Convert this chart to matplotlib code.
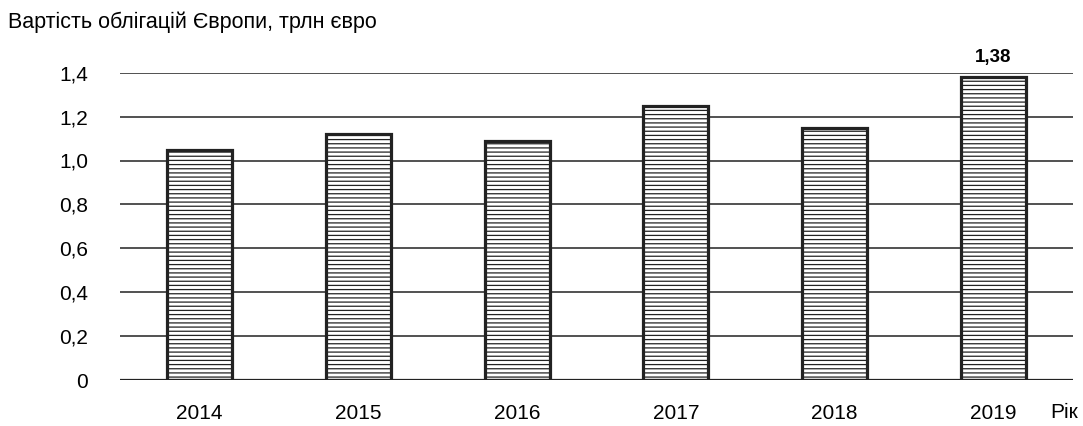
import numpy as np
import matplotlib.pyplot as plt

plt.rcParams['font.family'] = ['Liberation Sans', 'DejaVu Sans']
plt.rcParams['hatch.linewidth'] = 0.9
plt.rcParams['hatch.color'] = '#555555'

years = ['2014', '2015', '2016', '2017', '2018', '2019']
values = [1.05, 1.12, 1.09, 1.25, 1.15, 1.38]
yticks = [0, 0.2, 0.4, 0.6, 0.8, 1.0, 1.2, 1.4]
ytick_labels = ['0', '0,2', '0,4', '0,6', '0,8', '1,0', '1,2', '1,4']

fig = plt.figure(figsize=(10.83, 4.26), dpi=100)
ax = fig.add_axes([120 / 1083, 1 - 380 / 426, 953 / 1083, 307.3 / 426])

x = np.arange(len(years))
ax.bar(x, values, width=0.41, color='white', edgecolor='#222222',
       linewidth=2.3, hatch='----', zorder=3)

# horizontal gridlines drawn behind the bars
for t in yticks[1:]:
    ax.axhline(t, color='#222222', linewidth=1.1, zorder=1)
ax.axhline(0, color='#222222', linewidth=1.6, zorder=4)

ax.set_xlim(-0.5, len(years) - 0.5)
ax.set_ylim(0, 1.4)
ax.set_yticks(yticks)
ax.set_yticklabels(ytick_labels, fontsize=15)
ax.set_xticks(x)
ax.set_xticklabels(years, fontsize=15)
ax.tick_params(axis='both', length=0)
ax.tick_params(axis='y', pad=23)
ax.tick_params(axis='x', pad=17)
for s in ax.spines.values():
    s.set_visible(False)

ax.annotate('1,38', (x[-1], values[-1]), xytext=(0, 8), textcoords='offset points',
            ha='center', va='bottom', fontsize=13.5, fontweight='bold')

fig.text(8 / 1083, 1 - 22 / 426, 'Вартість облігацій Європи, трлн євро',
         fontsize=15.5, va='center', ha='left')
fig.text(1050 / 1083, 1 - 413 / 426, 'Рік', fontsize=15, va='center', ha='left')

fig.savefig('out.png', dpi=100)
